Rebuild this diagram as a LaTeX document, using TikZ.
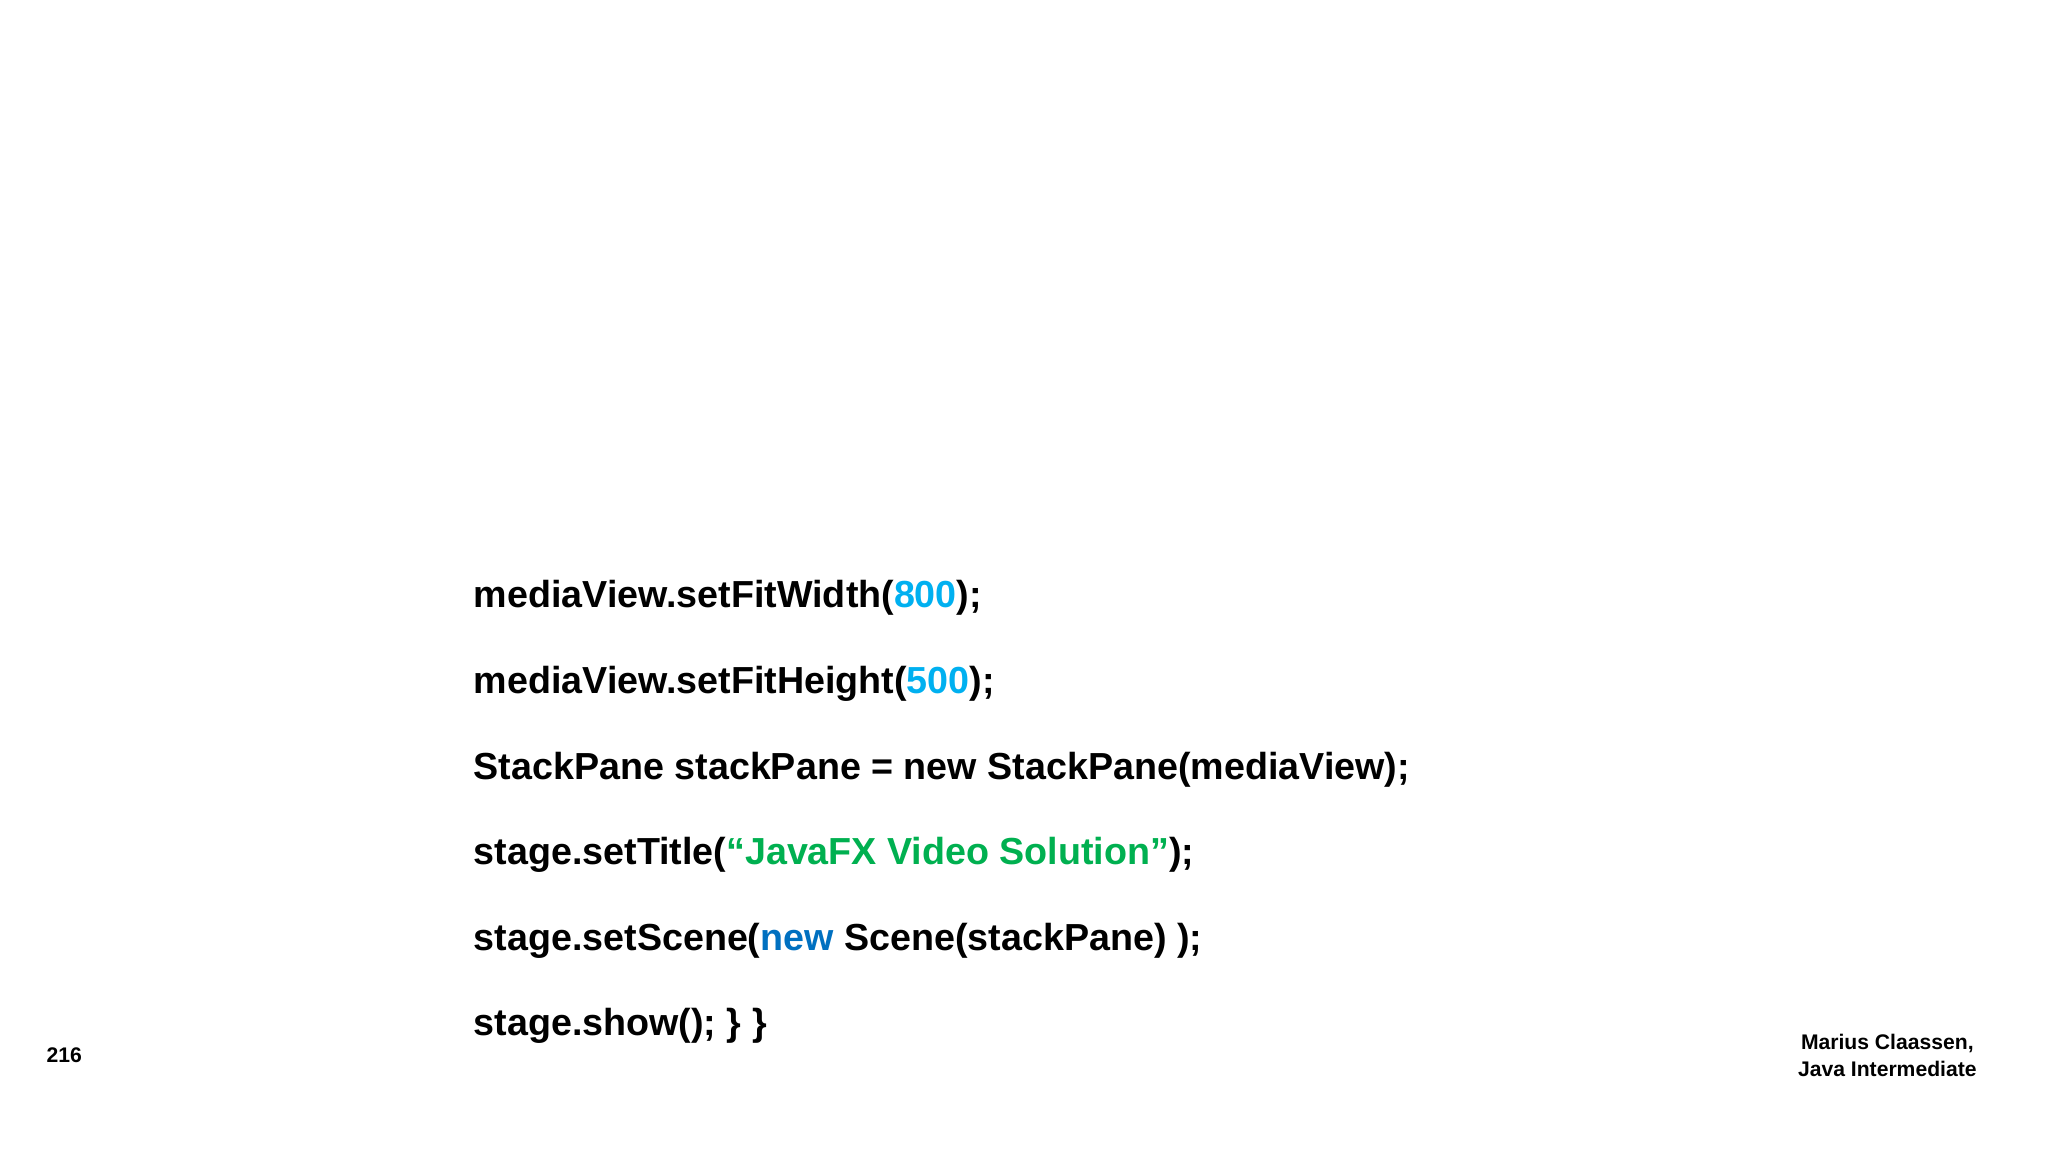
\documentclass[tikz,border=0pt]{standalone}
\usepackage{fontspec}
\setmainfont{Liberation Sans}
\definecolor{numcyan}{HTML}{00B0F0}
\definecolor{strgreen}{HTML}{00B050}
\definecolor{kwblue}{HTML}{0070C0}
\begin{document}
\begin{tikzpicture}[x=0.01cm,y=-0.01cm]

\tikzset{codeline/.style={anchor=base west,inner sep=0pt,font=\fontsize{8.2}{10}\selectfont\bfseries},}
\tikzset{footer/.style={inner sep=0pt,font=\fontsize{4.6}{5.8}\selectfont\bfseries,align=center},}

  \useasboundingbox[fill=white] (0,0) rectangle (1568,882);

  %code lines
  \node[codeline] (l1) at (362,465) {mediaView.setFitWidth(\textcolor{numcyan}{800});};
  \node[codeline] (l2) at (362,531) {mediaView.setFitHeight(\textcolor{numcyan}{500});};
  \node[codeline] (l3) at (362,597) {StackPane stackPane = new StackPane(mediaView);};
  \node[codeline] (l4) at (362,662) {stage.setTitle(\textcolor{strgreen}{“JavaFX Video Solution”});};
  \node[codeline] (l5) at (362,728) {stage.setScene(\textcolor{kwblue}{new} Scene(stackPane) );};
  \node[codeline] (l6) at (362,793) {stage.show(); \} \}};

  %footer
  \node[footer,anchor=west] (page) at (35,808) {216};
  \node[footer] (author) at (1445,808) {Marius Claassen,\\Java Intermediate};

\end{tikzpicture}
\end{document}
